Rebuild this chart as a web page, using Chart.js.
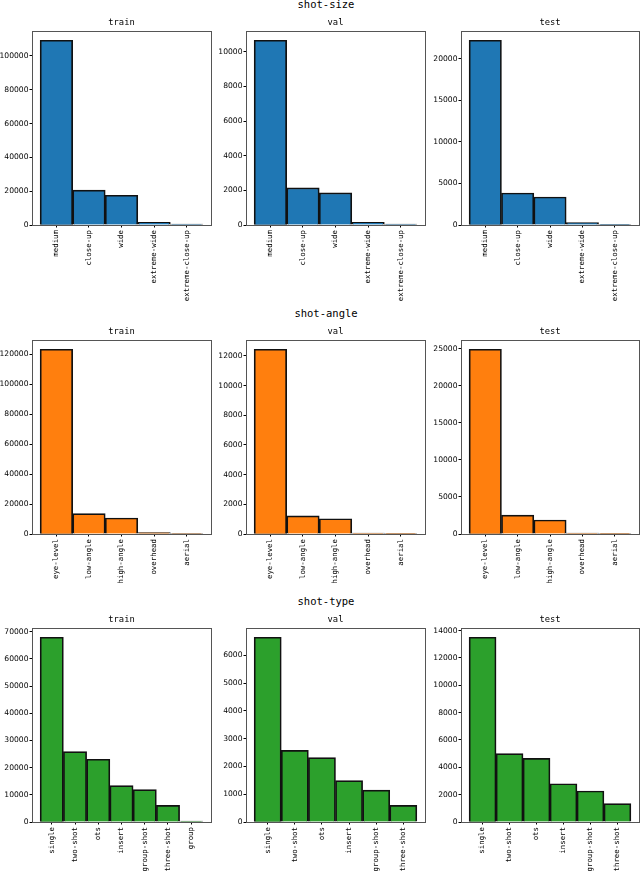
<!DOCTYPE html>
<html>
<head>
<meta charset="utf-8">
<script src="https://cdn.jsdelivr.net/npm/chart.js@4"></script>
<style>
  html, body { margin: 0; padding: 0; background: #fff; overflow: hidden; }
  body { width: 640px; height: 872px; position: relative; }
  canvas { position: absolute; }
  .suptitle {
    position: absolute; left: 226px; width: 200px; text-align: center;
    font-family: "DejaVu Sans Mono", monospace; font-size: 10.5px; color: #000;
    line-height: 12px;
  }
</style>
</head>
<body>
<div class="suptitle" style="top:-2px">shot-size</div>
<div class="suptitle" style="top:307px">shot-angle</div>
<div class="suptitle" style="top:595px">shot-type</div>

<script>
// ---- data ----
const sizeCats = ['medium', 'close-up', 'wide', 'extreme-wide', 'extreme-close-up'];
const sizeTrain = [109300, 20700, 17600, 1600, 600];
const sizeVal = [10670, 2150, 1860, 150, 60];
const sizeTest = [22210, 3850, 3370, 280, 80];

const angleCats = ['eye-level', 'low-angle', 'high-angle', 'overhead', 'aerial'];
const angleTrain = [123300, 13600, 10700, 900, 300];
const angleVal = [12450, 1220, 1030, 70, 20];
const angleTest = [24920, 2560, 1890, 130, 50];

const typeCatsTrain = ['single', 'two-shot', 'ots', 'insert', 'group-shot', 'three-shot', 'group'];
const typeCats = ['single', 'two-shot', 'ots', 'insert', 'group-shot', 'three-shot'];
const typeTrain = [68000, 25900, 23100, 13400, 11900, 6150, 370];
const typeVal = [6650, 2580, 2315, 1490, 1150, 600];
const typeTest = [13515, 5000, 4660, 2800, 2270, 1340];

const splits = ['train', 'val', 'test'];
const tickSteps = [[20000, 2000, 5000], [20000, 2000, 5000], [10000, 1000, 2000]];

// ---- layout ----
const AXW = 40, XAXH = 80, TOPH = 20, PLOTH = 194;
const colLeft = [32, 246, 461];
const colW = [179, 179, 178];
const rowTop = [31, 340, 628];
const colors = ['#1f77b4', '#ff7f0e', '#2ca02c'];

const rows = [
  [[sizeCats, sizeTrain], [sizeCats, sizeVal], [sizeCats, sizeTest]],
  [[angleCats, angleTrain], [angleCats, angleVal], [angleCats, angleTest]],
  [[typeCatsTrain, typeTrain], [typeCats, typeVal], [typeCats, typeTest]]
];

// box around the plot area (matplotlib spines) + subplot title centred on it
const frame = {
  id: 'frame',
  afterDatasetsDraw(chart, args, opts) {
    const a = chart.chartArea, ctx = chart.ctx;
    ctx.save();
    ctx.strokeStyle = '#555';
    ctx.lineWidth = 1;
    ctx.strokeRect(Math.round(a.left) + 0.5, Math.round(a.top) + 0.5,
      Math.round(a.right - a.left), Math.round(a.bottom - a.top));
    ctx.fillStyle = '#000';
    ctx.font = 'normal 8.8px "DejaVu Sans Mono"';
    ctx.textAlign = 'center';
    ctx.textBaseline = 'middle';
    ctx.fillText(opts.text, (a.left + a.right) / 2, a.top - 8);
    ctx.restore();
  }
};

rows.forEach((row, r) => {
  row.forEach(([cats, vals], c) => {
    const cv = document.createElement('canvas');
    const W = AXW + colW[c] + 4, H = TOPH + PLOTH + XAXH;
    cv.width = W; cv.height = H;
    cv.style.left = (colLeft[c] - AXW) + 'px';
    cv.style.top = (rowTop[r] - TOPH) + 'px';
    cv.style.width = W + 'px'; cv.style.height = H + 'px';
    document.body.appendChild(cv);

    const n = cats.length;
    const maxV = Math.max(...vals) * 1.05;
    const step = tickSteps[r][c];

    new Chart(cv, {
      type: 'bar',
      data: {
        datasets: [{
          data: vals.map((v, i) => ({ x: i, y: v })),
          backgroundColor: colors[r],
          borderColor: '#111',
          borderWidth: 1.7,
          barPercentage: 1,
          categoryPercentage: 1
        }]
      },
      options: {
        responsive: false,
        animation: false,
        devicePixelRatio: 1,
        layout: { padding: { left: 0, right: 4, top: TOPH, bottom: 0 } },
        plugins: {
          legend: { display: false },
          tooltip: { enabled: false },
          title: { display: false },
          frame: { text: splits[c] }
        },
        scales: {
          x: {
            type: 'linear',
            offset: false,
            min: -0.5 - 0.05 * n,
            max: n - 0.5 + 0.05 * n,
            afterBuildTicks: s => { s.ticks = cats.map((_, i) => ({ value: i })); },
            afterFit: s => { s.height = XAXH; },
            grid: { drawOnChartArea: false, offset: false, tickLength: 2.5, color: '#000' },
            border: { color: '#555' },
            ticks: {
              autoSkip: false,
              minRotation: 90,
              maxRotation: 90,
              padding: 2.5,
              color: '#000',
              font: { family: 'DejaVu Sans Mono', size: 7.4 },
              callback: v => cats[v]
            }
          },
          y: {
            min: 0,
            max: maxV,
            afterBuildTicks: s => {
              const t = [];
              for (let v = 0; v <= maxV; v += step) t.push({ value: v });
              s.ticks = t;
            },
            afterFit: s => { s.width = AXW; },
            grid: { drawOnChartArea: false, tickLength: 2.5, color: '#000' },
            border: { color: '#555' },
            ticks: {
              padding: 1,
              color: '#000',
              font: { family: 'DejaVu Sans', size: 7.6 },
              callback: v => String(v)
            }
          }
        }
      },
      plugins: [frame]
    });
  });
});
</script>
</body>
</html>
